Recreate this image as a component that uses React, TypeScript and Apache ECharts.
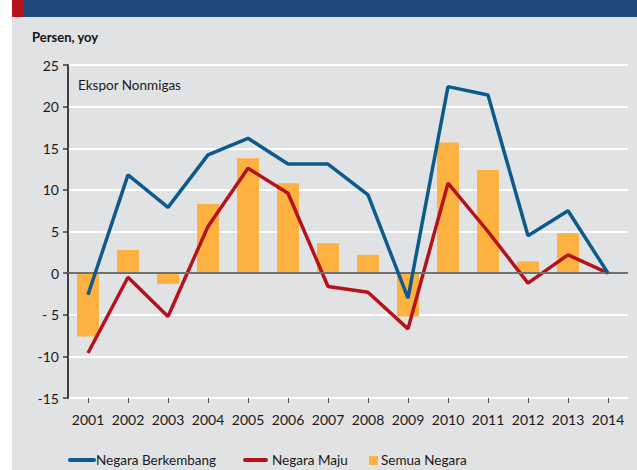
import React, { useEffect, useRef } from "react";
import * as echarts from "echarts";

const years = ["2001","2002","2003","2004","2005","2006","2007","2008","2009","2010","2011","2012","2013","2014"];
const negaraBerkembang = [-2.6, 11.8, 7.9, 14.2, 16.2, 13.1, 13.1, 9.4, -3.0, 22.4, 21.4, 4.5, 7.5, 0];
const negaraMaju = [-9.6, -0.5, -5.2, 5.6, 12.6, 9.6, -1.6, -2.3, -6.7, 10.8, 5.0, -1.2, 2.2, 0];
const semuaNegara = [-7.6, 2.8, -1.3, 8.3, 13.8, 10.8, 3.6, 2.2, -5.2, 15.7, 12.4, 1.4, 4.8, 0];

const BLUE = "#0d5b8c";
const RED = "#b5121b";
const ORANGE = "#fdb140";
const FONT = "Lato, 'Noto Sans', sans-serif";

export default function App() {
  const ref = useRef<HTMLDivElement>(null);
  useEffect(() => {
    document.body.style.margin = "0";
    const chart = echarts.init(ref.current!, null, { renderer: "svg" });
    chart.setOption({
      animation: false,
      backgroundColor: "#ffffff",
      textStyle: { fontFamily: FONT },
      grid: { left: 68, right: 9, top: 65, bottom: 72 },
      graphic: [
        { type: "rect", z: -10, shape: { x: 12, y: 0, width: 625, height: 470 }, style: { fill: "#e1e2e4" } },
        { type: "rect", z: -9, shape: { x: 23, y: 0, width: 614, height: 17 }, style: { fill: "#1f497c" } },
        { type: "rect", z: -9, shape: { x: 12, y: 0, width: 11, height: 17 }, style: { fill: RED } },
        { type: "text", x: 32, y: 37, style: { text: "Persen, yoy", fontFamily: FONT, fontSize: 13, fontWeight: "bold", fill: "#111", verticalAlign: "middle" } },
        { type: "text", x: 78, y: 85, z: 10, style: { text: "Ekspor Nonmigas", fontFamily: FONT, fontSize: 13.5, fill: "#1a1a1a", verticalAlign: "middle" } },
        { type: "line", shape: { x1: 70, y1: 460, x2: 94, y2: 460 }, style: { stroke: BLUE, lineWidth: 4, lineCap: "round" } },
        { type: "text", x: 96, y: 460, style: { text: "Negara Berkembang", fontFamily: FONT, fontSize: 13.5, fill: "#1a1a1a", verticalAlign: "middle" } },
        { type: "line", shape: { x1: 245, y1: 460, x2: 266, y2: 460 }, style: { stroke: RED, lineWidth: 4, lineCap: "round" } },
        { type: "text", x: 272, y: 460, style: { text: "Negara Maju", fontFamily: FONT, fontSize: 13.5, fill: "#1a1a1a", verticalAlign: "middle" } },
        { type: "rect", shape: { x: 369, y: 456, width: 9, height: 9 }, style: { fill: ORANGE } },
        { type: "text", x: 381, y: 460, style: { text: "Semua Negara", fontFamily: FONT, fontSize: 13.5, fill: "#1a1a1a", verticalAlign: "middle" } },
      ],
      xAxis: {
        type: "category",
        data: years,
        axisLine: { show: false, onZero: false },
        axisTick: { show: true, alignWithLabel: true, interval: 0, length: 5, lineStyle: { color: "#555", width: 1 } },
        axisLabel: { color: "#1a1a1a", fontSize: 14, margin: 14, fontFamily: FONT, interval: 0 },
        splitLine: { show: false },
      },
      yAxis: {
        type: "value",
        min: -15,
        max: 25,
        interval: 5,
        axisLine: { show: true, lineStyle: { color: "#404040", width: 2 } },
        axisTick: { show: true, length: 5, lineStyle: { color: "#404040", width: 1.5 } },
        axisLabel: {
          color: "#1a1a1a",
          fontSize: 14,
          margin: 9,
          fontFamily: FONT,
          formatter: (v: number) => (v < 0 ? (v > -10 ? "- " + Math.abs(v) : "-" + Math.abs(v)) : String(v)),
        },
        splitLine: { show: true, lineStyle: { color: "#ffffff", width: 2 } },
      },
      series: [
        {
          name: "Semua Negara",
          type: "bar",
          data: semuaNegara,
          barWidth: 22,
          itemStyle: { color: ORANGE },
          z: 2,
          markLine: {
            silent: true,
            symbol: "none",
            label: { show: false },
            lineStyle: { color: "#707070", width: 2, type: "solid" },
            data: [{ yAxis: 0 }],
          },
        },
        {
          name: "Negara Maju",
          type: "line",
          data: negaraMaju,
          showSymbol: false,
          symbol: "none",
          lineStyle: { color: RED, width: 3.5 },
          itemStyle: { color: RED },
          z: 4,
        },
        {
          name: "Negara Berkembang",
          type: "line",
          data: negaraBerkembang,
          showSymbol: false,
          symbol: "none",
          lineStyle: { color: BLUE, width: 3.5 },
          itemStyle: { color: BLUE },
          z: 5,
        },
      ],
    });
    return () => chart.dispose();
  }, []);
  return <div ref={ref} style={{ width: 637, height: 470 }} />;
}
